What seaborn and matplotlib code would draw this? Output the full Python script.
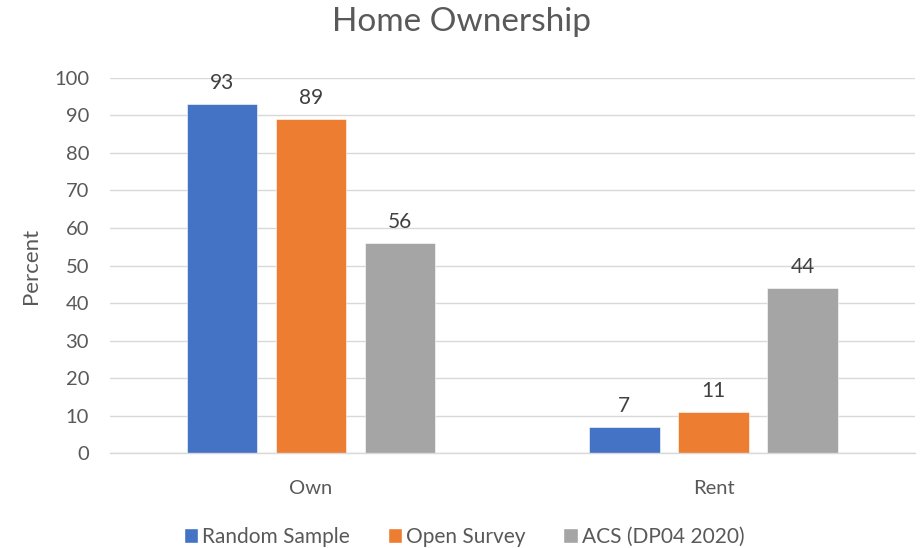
import matplotlib
matplotlib.use("Agg")
import matplotlib.pyplot as plt
import seaborn as sns
import pandas as pd

categories = ["Own", "Rent"]
series_names = ["Random Sample", "Open Survey", "ACS (DP04 2020)"]
random_sample = [93, 7]
open_survey = [89, 11]
acs = [56, 44]
colors = ["#4472C4", "#ED7D31", "#A5A5A5"]
y_ticks = [0, 10, 20, 30, 40, 50, 60, 70, 80, 90, 100]

rows = []
for name, vals in zip(series_names, [random_sample, open_survey, acs]):
    for cat, v in zip(categories, vals):
        rows.append({"Tenure": cat, "Source": name, "Percent": v})
df = pd.DataFrame(rows)

sns.set_theme(style="white")
plt.rcParams["font.family"] = ["Lato", "DejaVu Sans"]
text_color = "#595959"

fig = plt.figure(figsize=(9.23, 5.48), dpi=100)
ax = fig.add_axes([0.119, 0.173, 0.872, 0.685])

sns.barplot(data=df, x="Tenure", y="Percent", hue="Source", order=categories,
            hue_order=series_names, palette=colors, width=0.664, gap=0.21,
            saturation=1, ax=ax, legend=True, errorbar=None)

for cont in ax.containers:
    for bar in cont:
        bar.set_edgecolor("white")
        bar.set_linewidth(0.4)
    ax.bar_label(cont, padding=8, fontsize=15, color="#404040")

ax.set_xlim(-0.5, 1.5)
ax.set_ylim(0, 100)
ax.set_yticks(y_ticks)
ax.yaxis.grid(True, color="#D9D9D9", linewidth=1)
ax.set_axisbelow(True)
for side in ["top", "right", "left"]:
    ax.spines[side].set_visible(False)
ax.spines["bottom"].set_color("#D9D9D9")
ax.spines["bottom"].set_linewidth(1)
ax.tick_params(axis="both", length=0, labelsize=14.5, colors=text_color)
ax.tick_params(axis="x", pad=19)
ax.tick_params(axis="y", pad=15)
ax.set_xlabel("")
ax.set_ylabel("Percent", fontsize=16, color=text_color, labelpad=9)

fig.suptitle("Home Ownership", fontsize=24, color=text_color, x=0.5, y=0.96, va="center")

handles, labels = ax.get_legend_handles_labels()
ax.get_legend().remove()
leg = fig.legend(handles, labels, loc="center", bbox_to_anchor=(0.503, 0.02), ncol=3,
                 frameon=False, fontsize=15, handlelength=0.7, handleheight=0.7,
                 handletextpad=0.2, columnspacing=1.8)
for t in leg.get_texts():
    t.set_color(text_color)

fig.savefig("out.png", dpi=100)
